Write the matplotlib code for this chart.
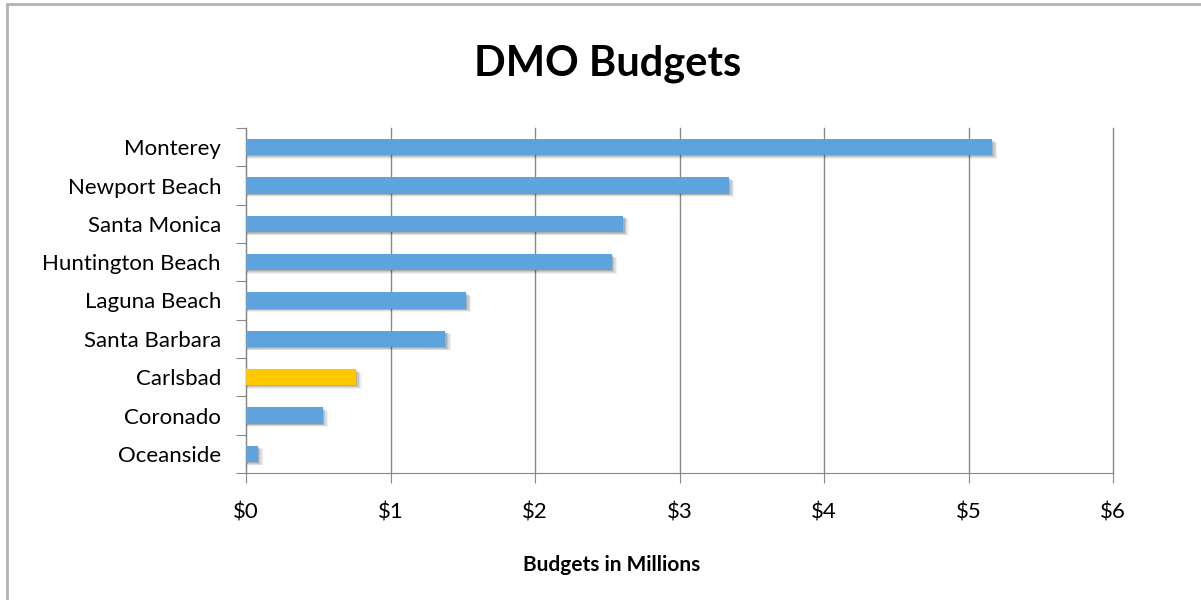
import matplotlib.pyplot as plt
from matplotlib.patches import Rectangle

cities = ['Monterey', 'Newport Beach', 'Santa Monica', 'Huntington Beach',
          'Laguna Beach', 'Santa Barbara', 'Carlsbad', 'Coronado', 'Oceanside']
budgets = [5.16, 3.34, 2.61, 2.53, 1.52, 1.38, 0.76, 0.53, 0.08]
colors = ['#5fa3dc'] * 9
colors[6] = '#ffc800'
tick_labels = ['$0', '$1', '$2', '$3', '$4', '$5', '$6']

plt.rcParams['font.family'] = ['Lato', 'DejaVu Sans']

fig = plt.figure(figsize=(12.01, 6.0), dpi=100)
fig.patches.append(Rectangle((7 / 1201, -0.1), 1.2, 1 - 4 / 600 + 0.1,
                             transform=fig.transFigure, fill=False,
                             edgecolor='#b3b3b3', linewidth=2))
ax = fig.add_axes([246 / 1201, 1 - 473 / 600, (1113 - 246) / 1201, (473 - 128) / 600])

y = list(range(len(cities)))[::-1]
h = 0.42
# soft shadow
for dx, dy, a in [(0.04, 0.09, 0.06), (0.03, 0.07, 0.08), (0.02, 0.05, 0.10), (0.01, 0.03, 0.12)]:
    ax.barh([v - dy for v in y], [b + dx for b in budgets], height=h,
            color='black', alpha=a, linewidth=0, zorder=2)
ax.barh(y, budgets, height=h, color=colors, linewidth=0, zorder=3)

ax.set_xlim(0, 6)
ax.set_ylim(-0.5, len(cities) - 0.5)
ax.set_xticks(range(7))
ax.set_xticklabels(tick_labels, fontsize=16)
ax.set_yticks([v - 0.5 for v in range(len(cities) + 1)], minor=False)
ax.set_yticklabels([])
ax.set_yticks(y, minor=True)
ax.set_yticklabels(cities, minor=True, fontsize=16)
ax.tick_params(axis='y', which='minor', length=0, pad=18)
ax.tick_params(axis='y', which='major', length=7, color='#888888')
ax.tick_params(axis='x', length=7, color='#888888', pad=14)
ax.grid(axis='x', color='#888888', linewidth=1, zorder=0)
for gl in ax.get_xgridlines():
    gl.set_clip_on(False)
for s in ['top', 'right']:
    ax.spines[s].set_visible(False)
for s in ['left', 'bottom']:
    ax.spines[s].set_color('#888888')

fig.text(608 / 1201, 1 - 64 / 600, 'DMO Budgets', ha='center', va='center',
         fontsize=30, fontweight='bold')
fig.text(612 / 1201, 1 - 565 / 600, 'Budgets in Millions', ha='center',
         va='center', fontsize=15, fontweight='bold')

fig.savefig('out.png', dpi=100)
